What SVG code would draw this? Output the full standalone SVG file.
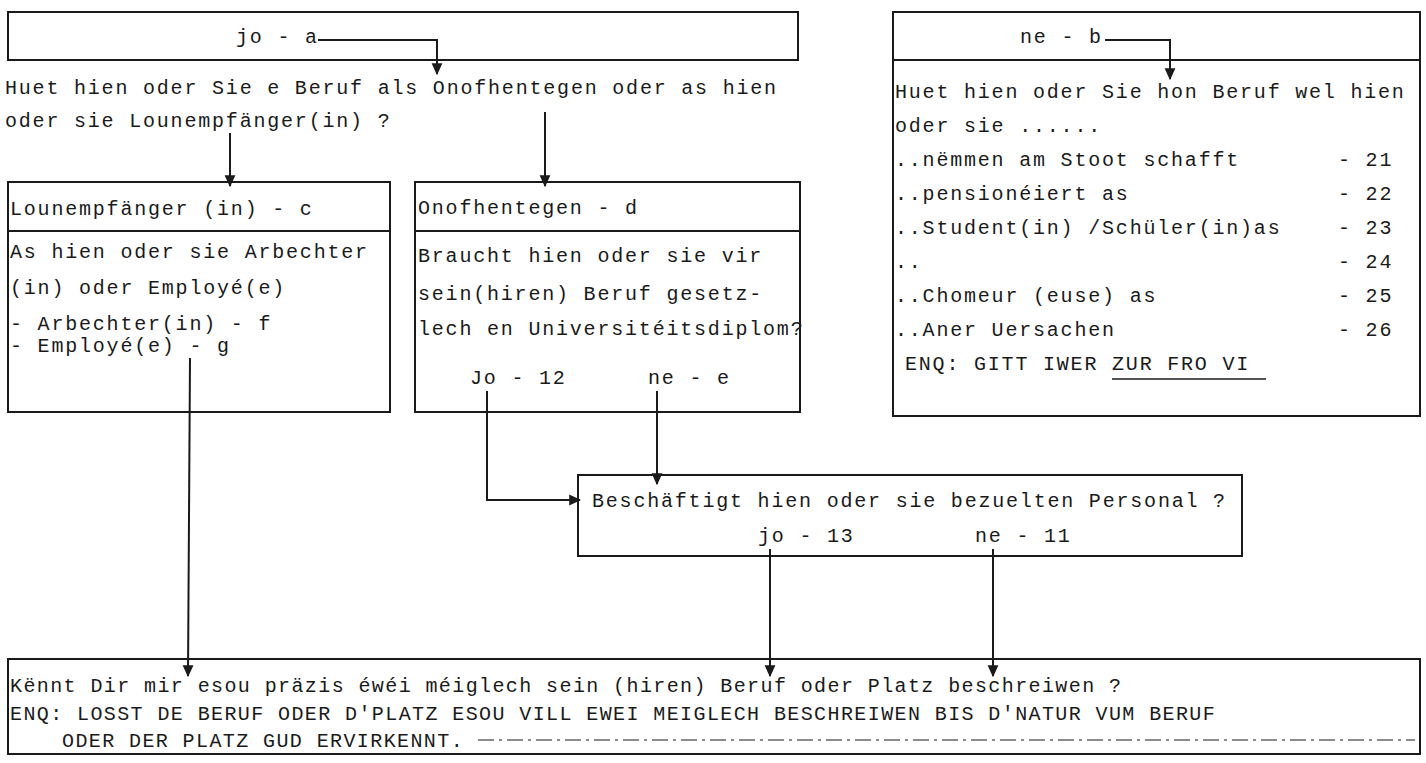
<svg xmlns="http://www.w3.org/2000/svg" width="1426" height="763" viewBox="0 0 1426 763">
<style>
.box{fill:none;stroke:#1a1a1a;stroke-width:2}
.ln{fill:none;stroke:#1a1a1a;stroke-width:2}
.t{font-family:"Liberation Mono","DejaVu Sans Mono",monospace;font-size:20px;letter-spacing:1.8px;fill:#1a1a1a}
.b{font-family:"Liberation Mono","DejaVu Sans Mono",monospace;font-size:20px;letter-spacing:1.4px;fill:#1a1a1a}
</style>
<defs>
<marker id="ah" viewBox="0 0 10 10" refX="9" refY="5" markerWidth="6" markerHeight="6" orient="auto" markerUnits="strokeWidth">
<path d="M0,0.5 L10,5 L0,9.5 z" fill="#1a1a1a"/>
</marker>
</defs>
<rect width="1426" height="763" fill="#ffffff"/>

<g id="q-header-left">
<rect class="box" x="8" y="12" width="790" height="48"/>
<text class="t" x="236" y="43">jo - a</text>
</g>

<g id="q-main">
<text class="t" x="5" y="94">Huet hien oder Sie e Beruf als Onofhentegen oder as hien</text>
<text class="t" x="5" y="127">oder sie Lounempfänger(in) ?</text>
</g>

<g id="q-right">
<rect class="box" x="893" y="12" width="527" height="404"/>
<line class="ln" x1="893" y1="60" x2="1420" y2="60"/>
<text class="t" x="1020" y="43">ne - b</text>
<text class="t" x="895" y="98">Huet hien oder Sie hon Beruf wel hien</text>
<text class="t" x="895" y="132">oder sie ......</text>
<text class="t" x="895" y="166">..nëmmen am Stoot schafft</text><text class="t" x="1338" y="166">- 21</text>
<text class="t" x="895" y="200">..pensionéiert as</text><text class="t" x="1338" y="200">- 22</text>
<text class="t" x="895" y="234">..Student(in) /Schüler(in)as</text><text class="t" x="1338" y="234">- 23</text>
<text class="t" x="895" y="268">..</text><text class="t" x="1338" y="268">- 24</text>
<text class="t" x="895" y="302">..Chomeur (euse) as</text><text class="t" x="1338" y="302">- 25</text>
<text class="t" x="895" y="336">..Aner Uersachen</text><text class="t" x="1338" y="336">- 26</text>
<text class="t" x="905" y="370">ENQ: GITT IWER ZUR FRO  VI</text>
<line x1="1112" y1="379" x2="1266" y2="379" stroke="#1a1a1a" stroke-width="1.5"/>
</g>

<g id="q-lounempfaenger">
<rect class="box" x="8" y="182" width="382" height="230"/>
<line class="ln" x1="8" y1="231" x2="390" y2="231"/>
<text class="t" x="10" y="215">Lounempfänger (in) - c</text>
<text class="t" x="10" y="258">As hien oder sie Arbechter</text>
<text class="t" x="10" y="294">(in) oder Employé(e)</text>
<text class="t" x="10" y="330">- Arbechter(in)  - f</text>
<text class="t" x="10" y="352">- Employé(e)     - g</text>
</g>

<g id="q-onofhentegen">
<rect class="box" x="415" y="182" width="385" height="230"/>
<line class="ln" x1="415" y1="231" x2="800" y2="231"/>
<text class="t" x="418" y="214">Onofhentegen - d</text>
<text class="t" x="418" y="262">Braucht hien oder sie vir</text>
<text class="t" x="418" y="300">sein(hiren) Beruf gesetz-</text>
<text class="t" x="418" y="335">lech en Universitéitsdiplom?</text>
<text class="t" x="470" y="384">Jo - 12</text>
<text class="t" x="648" y="384">ne - e</text>
</g>

<g id="q-personal">
<rect class="box" x="578" y="475" width="664" height="81"/>
<text class="t" x="592" y="507">Beschäftigt hien oder sie bezuelten Personal ?</text>
<text class="t" x="758" y="542">jo - 13</text>
<text class="t" x="975" y="542">ne - 11</text>
</g>

<g id="q-beruf">
<rect class="box" x="8" y="659" width="1412" height="95"/>
<text class="b" x="10" y="692">Kënnt Dir mir esou präzis éwéi méiglech sein (hiren) Beruf oder Platz beschreiwen ?</text>
<text class="b" x="10" y="720">ENQ: LOSST DE BERUF ODER D'PLATZ ESOU VILL EWEI MEIGLECH BESCHREIWEN BIS D'NATUR VUM BERUF</text>
<text class="b" x="62" y="747">ODER DER PLATZ GUD ERVIRKENNT.</text>
<line x1="478" y1="740" x2="1415" y2="740" stroke="#1a1a1a" stroke-width="1.2" stroke-dasharray="16 5 3 5"/>
</g>

<g id="connectors">
<polyline class="ln" points="318,40 437,40 437,74" marker-end="url(#ah)"/>
<polyline class="ln" points="1105,40 1170,40 1170,79" marker-end="url(#ah)"/>
<polyline class="ln" points="230,133 230,186" marker-end="url(#ah)"/>
<polyline class="ln" points="545,112 545,186" marker-end="url(#ah)"/>
<polyline class="ln" points="190,358 188,676" marker-end="url(#ah)"/>
<polyline class="ln" points="487,391 487,500 580,500" marker-end="url(#ah)"/>
<polyline class="ln" points="657,391 657,484" marker-end="url(#ah)"/>
<polyline class="ln" points="770,549 770,676" marker-end="url(#ah)"/>
<polyline class="ln" points="993,549 993,676" marker-end="url(#ah)"/>
</g>
</svg>
